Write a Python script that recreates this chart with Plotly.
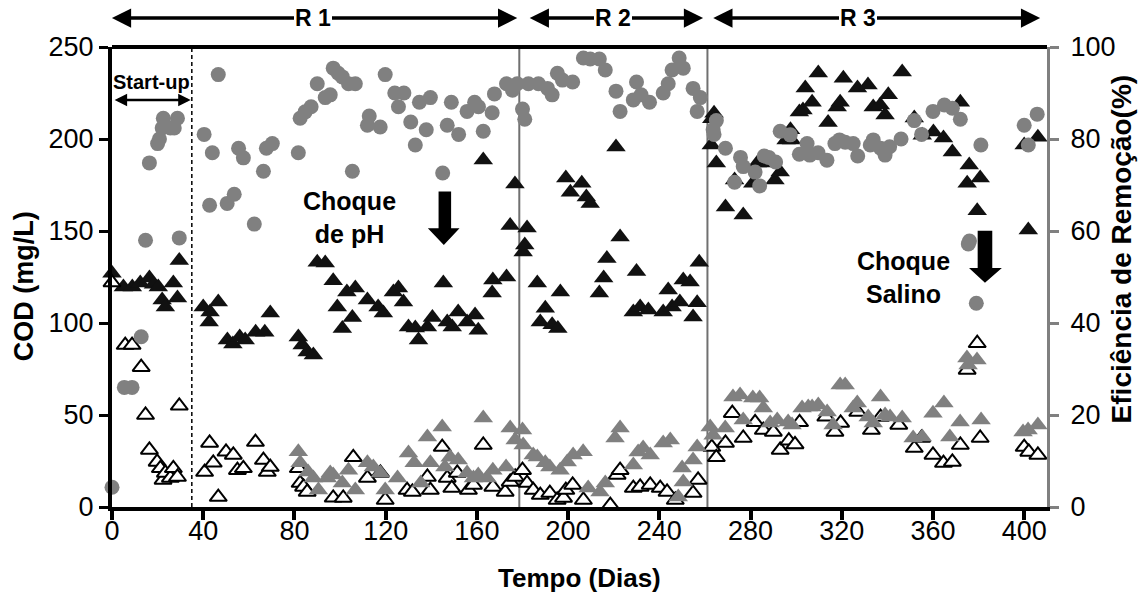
import plotly.graph_objects as go

# ---------------- data ----------------
# COD influent (black filled triangles), mg/L
inf_day = [0, 5, 8.9, 12.4, 16.4, 18.2, 20.3, 22, 23.4, 26.9, 28.7, 29.5, 40, 42.6, 43, 46.6,
           50.6, 53, 56, 58.4, 63, 67, 69.4, 81.7, 83.4, 85.6, 88.3, 90, 93.5, 97, 98.8, 101,
           103, 105.4, 106.7, 112, 116.7, 119, 123.4, 125.6, 127.8, 130, 133, 134.4, 138.3,
           140.5, 145.3, 147, 149.2, 151.8, 155.7, 159.2, 160.6, 162.8, 166.7, 167, 173, 174.6,
           176.7, 180.3, 181, 182, 186.5, 187.8, 190, 193, 195.5, 196.6, 199, 201, 206, 208,
           209.7, 213.7, 215.6, 217, 221, 222.8, 228.6, 230, 231.6, 235.2, 241.7, 243.9, 245.6,
           249, 250.5, 253.5, 254.8, 256.6, 257.5, 262.8, 263, 264, 265, 269, 273, 276.8, 281,
           283, 286.3, 288, 290.7, 293, 295.6, 297.5, 298, 301.4, 303, 304, 307, 309.7, 314,
           318, 319.3, 320.7, 326.9, 331.5, 333.8, 336.9, 339, 340.4, 346.5, 351.8, 355.3,
           360.2, 364.6, 368.5, 372, 375, 375.9, 379.4, 380.7, 400, 401.8, 406]
inf_cod = [127, 119.6, 119.6, 121.7, 124.5, 121, 119.6, 112.5, 108.7, 121.7, 113.6, 134, 108.7,
           100.5, 106, 111.4, 90.8, 88.6, 92.4, 90.8, 95, 95, 105.4, 92.4, 88, 84.2, 82.6, 133,
           132.6, 123, 108.7, 97, 116.8, 103, 119, 112.5, 108.7, 105.4, 116.8, 119, 111.4, 97.8,
           97.3, 90.8, 97.8, 103, 121.7, 100.5, 97.8, 106, 100.5, 104.3, 96, 188.6, 116.3, 123.4,
           125, 153, 175.5, 138.6, 142.4, 151.6, 121.7, 100.5, 108, 99, 97, 116.8, 178.8, 171,
           176, 168.5, 165, 116.3, 124.5, 135, 195.6, 146.7, 106, 128, 108.7, 107, 106, 118,
           108.7, 111.4, 123.4, 122.3, 103.3, 111, 133, 196.7, 211, 214, 187, 163, 177.7, 158.7,
           176, 187, 187, 188.6, 177.7, 182, 199.5, 205, 199.5, 214.7, 215.8, 227.7, 220, 235.9,
           209, 217.4, 220, 233, 227.7, 229.3, 217.4, 218.5, 213, 224, 236.4, 211.4, 202, 203.8,
           200.5, 193, 220, 176, 185.9, 161, 178.8, 196.7, 150.5, 201]

# COD effluent (open triangles), mg/L
eff_day = [0, 5.8, 8.8, 12.8, 14.7, 16.4, 19.8, 21.2, 22.4, 23.4, 25.6, 26.9, 28.7, 29.5, 40.6,
           42.8, 44.4, 46.6, 50, 53.2, 55, 57.6, 62.9, 66.4, 68.1, 69.4, 81.7, 82.5, 84, 85.6,
           97, 101.4, 105.8, 112, 117.7, 119.8, 129.4, 131.7, 138.3, 139.6, 144.8, 147, 149,
           151.4, 156.3, 158.5, 162.8, 167, 172.4, 174.6, 176.8, 180, 182, 184.7, 187.8, 192,
           195.2, 198, 199, 202, 206.7, 218.5, 221.5, 222.8, 228.6, 231.6, 236, 240.4, 243.4,
           247, 254.8, 257, 263, 265, 269, 272, 276.8, 282, 285.6, 290, 293, 296.8, 299.5,
           301.5, 313, 317, 319.5, 327, 333, 337, 345, 351.8, 355, 360, 364.6, 368.5, 372, 375,
           379.4, 380.7, 400, 402, 406]
eff_cod = [122, 88, 88, 76, 50, 31, 24.5, 21, 14.7, 18.5, 15.8, 21, 16.3, 55, 19, 34.8, 24, 5.4,
           30, 28.3, 20, 21, 35.3, 25.5, 19, 21.7, 21, 13, 10.9, 8.2, 5, 4.9, 27, 15.8, 18.5,
           3.8, 9.2, 8.2, 16.3, 9.2, 32.6, 15.8, 10.3, 18.5, 9.2, 12, 33.7, 10.9, 8.2, 13.6, 16.3,
           20, 13, 9.2, 6.5, 7.6, 3.8, 4.9, 9.2, 12, 3.8, 1, 17.4, 20, 10.3, 10.9, 12, 10.3, 8.2,
           3.8, 7.6, 14.7, 32.6, 27, 34.8, 51, 37.5, 46, 41.8, 40.8, 31, 36, 34, 46, 49, 40.8,
           45.7, 51.6, 41.8, 48.9, 44.6, 32, 37.5, 28.3, 23.9, 24.5, 33.7, 74.5, 89, 37.5, 32.6,
           29.9, 28.3]

# COD effluent, second measurement (gray triangles), mg/L
eff2_day = [81.7, 82.5, 86, 88.3, 90.5, 94.4, 95.7, 97, 101, 103.7, 106.7, 112, 114.6, 117.7,
            119.8, 125.2, 130, 132.5, 135.4, 138.3, 139.6, 144.8, 146, 148.3, 151.8, 155.7,
            158.5, 160.6, 162.8, 164.5, 167, 172.8, 174.6, 176.8, 180, 180.3, 184.7, 186.5, 190,
            192, 196.5, 199.6, 202.2, 206.6, 208.8, 214, 216.3, 220.6, 222.8, 228.6, 230.7,
            232.9, 236, 241.7, 244.8, 248.3, 250, 250.5, 254.8, 256.6, 262.3, 263.6, 268.9,
            272.3, 275.4, 276.8, 281, 284, 285.6, 288.6, 291.7, 296.5, 298.2, 302.6, 305.3, 307,
            309.7, 313.6, 316.2, 319.3, 321.5, 325, 326.8, 331.6, 333.8, 337, 339, 341.2, 346.5,
            351.3, 355.3, 360, 364.8, 367.4, 371.9, 374.9, 375.4, 379.3, 381.1, 399.5, 401.7, 406]
eff2_cod = [30, 24, 19, 15.8, 9.2, 15.8, 18.5, 17.4, 13, 20, 9.2, 24, 21.7, 18.5, 9.2, 15.8,
            29.3, 24, 13, 38, 24, 43.5, 21.7, 27, 25.5, 18.5, 15.8, 17.4, 48.4, 15.8, 20, 21.7,
            42.9, 36.4, 41.8, 33.7, 28.3, 27.2, 24, 21.7, 20, 24.5, 28.3, 30, 10.3, 8.2, 13,
            37.5, 43, 22.8, 29.9, 32, 28.3, 34.8, 36.4, 5.4, 21.2, 13.6, 25.5, 32.6, 43.5, 39,
            42.9, 59.8, 60.9, 47.3, 59.2, 59.2, 53.8, 45.7, 47.3, 46.2, 44.6, 53.8, 54.3, 54.3,
            55.4, 51.6, 44.6, 66.3, 66.3, 53.8, 56.5, 48.9, 45.7, 59.8, 50, 48.9, 48.4, 37.5, 38,
            51, 56.5, 38, 46.2, 81, 77.2, 79.9, 47.3, 40.8, 41.8, 44.6]

# Removal efficiency (gray circles), %
rem_day = [0, 5.4, 8.8, 12.8, 14.7, 16.4, 20, 20.8, 22, 22.5, 25.6, 27.3, 28.7, 29.5, 40.4,
           42.8, 44, 46.6, 50.5, 53.6, 55.5, 57.6, 62.4, 66.4, 67.7, 70.3, 81.7, 82.5, 84.7,
           87.3, 90, 93.5, 95.7, 97, 99.2, 101, 103.7, 105.4, 106.7, 112, 112.8, 117.6, 119.8,
           124, 125.6, 128, 131, 133, 134.8, 137.8, 139.6, 145, 147, 148.8, 152, 155.7, 159,
           160.7, 162.8, 166.7, 167.7, 173, 175.6, 177.7, 180, 181, 182.6, 187, 191, 193, 195.3,
           197.5, 202, 206.7, 209.7, 213.7, 216.3, 221, 222.8, 228.6, 230, 232, 235.7, 241.7,
           243.9, 245.6, 248.7, 250.5, 254.8, 256.6, 258, 263.6, 264, 265, 269, 273, 275.6,
           276.8, 282, 284, 286, 288, 291, 293, 297.4, 301.4, 304.8, 306, 309.6, 313.5, 317, 319,
           321.5, 325, 327, 332.5, 333.8, 337, 339, 341, 346, 351.8, 355, 360, 365, 368.5, 372,
           375.5, 376, 379, 381, 400, 401.8, 405.7]
rem_pct = [4.3, 26, 26, 37, 58, 74.8, 79, 80, 82.4, 84.5, 82.4, 82.4, 84.5, 58.5, 81, 65.6, 77,
           94, 66, 68, 78, 75.9, 61.5, 73, 78, 79, 77, 84.5, 85.9, 87, 92, 89, 89.6, 95.4, 94.3,
           93.5, 92, 73, 92, 83, 85, 82.6, 94, 90, 87, 90, 83.7, 78.7, 88, 82, 89, 72.6, 83, 88,
           81, 86, 88, 87, 81.7, 85.7, 89.8, 92, 90.6, 92, 86.5, 84.3, 92, 92, 91, 89.6, 94.3,
           92.8, 92.4, 97.6, 97.4, 97.4, 95, 90.4, 86, 88.5, 92.4, 89.6, 88, 90, 92, 95, 97.6,
           95.4, 91, 86, 89, 82, 81, 84, 78, 70.6, 76, 74, 72.8, 69.8, 76.3, 76, 75, 81.7, 80.9,
           76.7, 79, 76.5, 77, 75.4, 79, 79.8, 79.3, 79, 76.3, 78.7, 79.8, 78, 76.5, 78.3, 80,
           84, 81, 86, 87.4, 86.7, 84.3, 57.2, 57.8, 44.3, 78.7, 83, 78.7, 85.4]

x_ticks = [0, 40, 80, 120, 160, 200, 240, 280, 320, 360, 400]
y_ticks = [0, 50, 100, 150, 200, 250]
y2_ticks = [0, 20, 40, 60, 80, 100]

phase_bounds = [35, 178.6, 261.1]   # start-up end, R1/R2, R2/R3

FONT = "Liberation Sans, Arial, sans-serif"
GRAY = "#808080"

fig = go.Figure()
fig.add_trace(go.Scatter(x=inf_day, y=inf_cod, mode="markers", cliponaxis=False,
                         marker=dict(symbol="triangle-up", size=17, color="#111111",
                                     line=dict(width=0)), showlegend=False))
fig.add_trace(go.Scatter(x=eff_day, y=eff_cod, mode="markers", cliponaxis=False,
                         marker=dict(symbol="triangle-up", size=15, color="white",
                                     line=dict(width=2, color="black")), showlegend=False))
fig.add_trace(go.Scatter(x=eff2_day, y=eff2_cod, mode="markers", cliponaxis=False,
                         marker=dict(symbol="triangle-up", size=17, color=GRAY,
                                     line=dict(width=0)), showlegend=False))
fig.add_trace(go.Scatter(x=rem_day, y=rem_pct, mode="markers", yaxis="y2", cliponaxis=False,
                         marker=dict(symbol="circle", size=15, color=GRAY,
                                     line=dict(width=0)), showlegend=False))

shapes = [
    dict(type="line", xref="x", yref="paper", x0=phase_bounds[0], x1=phase_bounds[0], y0=0, y1=1,
         line=dict(color="black", width=1.5, dash="4px,3px"), layer="below"),
    dict(type="line", xref="x", yref="paper", x0=phase_bounds[1], x1=phase_bounds[1], y0=0, y1=1,
         line=dict(color="#707070", width=2), layer="below"),
    dict(type="line", xref="x", yref="paper", x0=phase_bounds[2], x1=phase_bounds[2], y0=0, y1=1,
         line=dict(color="#707070", width=2), layer="below"),
    dict(type="line", xref="paper", yref="paper", x0=0, x1=1, y0=1, y1=1,
         line=dict(color="black", width=4)),
    # pH shock arrow
    dict(type="path", xref="x", yref="y",
         path="M 143.2,171.4 L 148.7,171.4 L 148.7,151.5 L 152.4,151.5 L 145.5,142.4 "
              "L 138.5,151.5 L 143.2,151.5 Z",
         fillcolor="black", line=dict(width=0)),
    # saline shock arrow
    dict(type="path", xref="x", yref="y",
         path="M 379.6,150.2 L 386.0,150.2 L 386.0,129.9 L 390.2,129.9 L 382.8,121.9 "
              "L 375.8,129.9 L 379.6,129.9 Z",
         fillcolor="black", line=dict(width=0)),
]

ytop = 1.063   # paper y of the phase arrows
annotations = []
for (a, b) in [(-0.7, 177.7), (182.5, 259.2), (263, 407)]:
    annotations.append(dict(x=b, y=ytop, ax=a, ay=0, xref="x", yref="paper", axref="x",
                            ayref="pixel", text="", showarrow=True, arrowhead=2,
                            startarrowhead=2, arrowside="end+start", arrowwidth=3.5,
                            arrowsize=1.1, startarrowsize=1.1, arrowcolor="black"))
for (xc, t) in [(88, "R 1"), (219.5, "R 2"), (327, "R 3")]:
    annotations.append(dict(x=xc, y=ytop, xref="x", yref="paper", text="<b>" + t + "</b>",
                            showarrow=False, bgcolor="white", borderpad=1, borderwidth=0,
                            xanchor="center", yanchor="middle",
                            font=dict(family=FONT, size=23, color="black")))
# start-up
annotations.append(dict(x=34.5, y=221.2, ax=0.5, ay=221.2, xref="x", yref="y", axref="x",
                        ayref="y", text="", showarrow=True, arrowhead=2, startarrowhead=2,
                        arrowside="end+start", arrowwidth=2.5, arrowsize=1, startarrowsize=1,
                        arrowcolor="black"))
annotations.append(dict(x=17.5, y=230.8, xref="x", yref="y", text="<b>Start-up</b>",
                        showarrow=False, xanchor="center", yanchor="middle",
                        font=dict(family=FONT, size=20, color="black")))
annotations.append(dict(x=104, y=157.6, xref="x", yref="y", text="<b>Choque<br>de pH</b>",
                        showarrow=False, align="center", xanchor="center", yanchor="middle",
                        font=dict(family=FONT, size=25, color="black")))
annotations.append(dict(x=346.9, y=125, xref="x", yref="y", text="<b>Choque<br>Salino</b>",
                        showarrow=False, align="center", xanchor="center", yanchor="middle",
                        font=dict(family=FONT, size=25, color="black")))
# axis titles
annotations.append(dict(x=0, y=0.48, xref="paper", yref="paper", xshift=-88,
                        xanchor="center", yanchor="middle",
                        text="<b>COD (mg/L)</b>", textangle=-90, showarrow=False,
                        font=dict(family=FONT, size=27, color="black")))
annotations.append(dict(x=1, y=0.56, xref="paper", yref="paper", xshift=74,
                        xanchor="center", yanchor="middle",
                        text="<b>Eficiência de Remoção(%)</b>", textangle=-90, showarrow=False,
                        font=dict(family=FONT, size=28, color="black")))
annotations.append(dict(x=0.5, y=0, xref="paper", yref="paper", yshift=-71,
                        xanchor="center", yanchor="middle",
                        text="<b>Tempo (Dias)</b>", showarrow=False,
                        font=dict(family=FONT, size=26, color="black")))

fig.update_layout(
    width=1139, height=598,
    margin=dict(l=112, r=92, t=47, b=91),
    paper_bgcolor="white", plot_bgcolor="white",
    font=dict(family=FONT, color="black"),
    shapes=shapes, annotations=annotations,
    hovermode=False,
    xaxis=dict(range=[0, 410], tickvals=x_ticks, showgrid=False, zeroline=False,
               showline=True, linecolor="black", linewidth=4, automargin=False,
               ticks="outside", ticklen=9, tickwidth=4, tickcolor="black",
               ticklabelstandoff=-12,
               tickfont=dict(family=FONT, size=27, color="black")),
    yaxis=dict(range=[0, 250], tickvals=y_ticks, showgrid=False, zeroline=False,
               showline=True, linecolor="black", linewidth=4, automargin=False,
               ticks="outside", ticklen=9, tickwidth=3, tickcolor="black",
               tickfont=dict(family=FONT, size=27, color="black")),
    yaxis2=dict(range=[0, 100], tickvals=y2_ticks, overlaying="y", side="right",
                showgrid=False, zeroline=False, showline=True, linecolor=GRAY, linewidth=3,
                automargin=False, ticks="outside", ticklen=9, tickwidth=3, tickcolor=GRAY,
                ticklabelstandoff=6,
                tickfont=dict(family=FONT, size=27, color="black")),
)

# remove the default page margin so the figure fills the window exactly
fig.write_html("out.html", config={"displayModeBar": False},
               post_script="document.body.style.margin='0';document.body.style.overflow='hidden';")
